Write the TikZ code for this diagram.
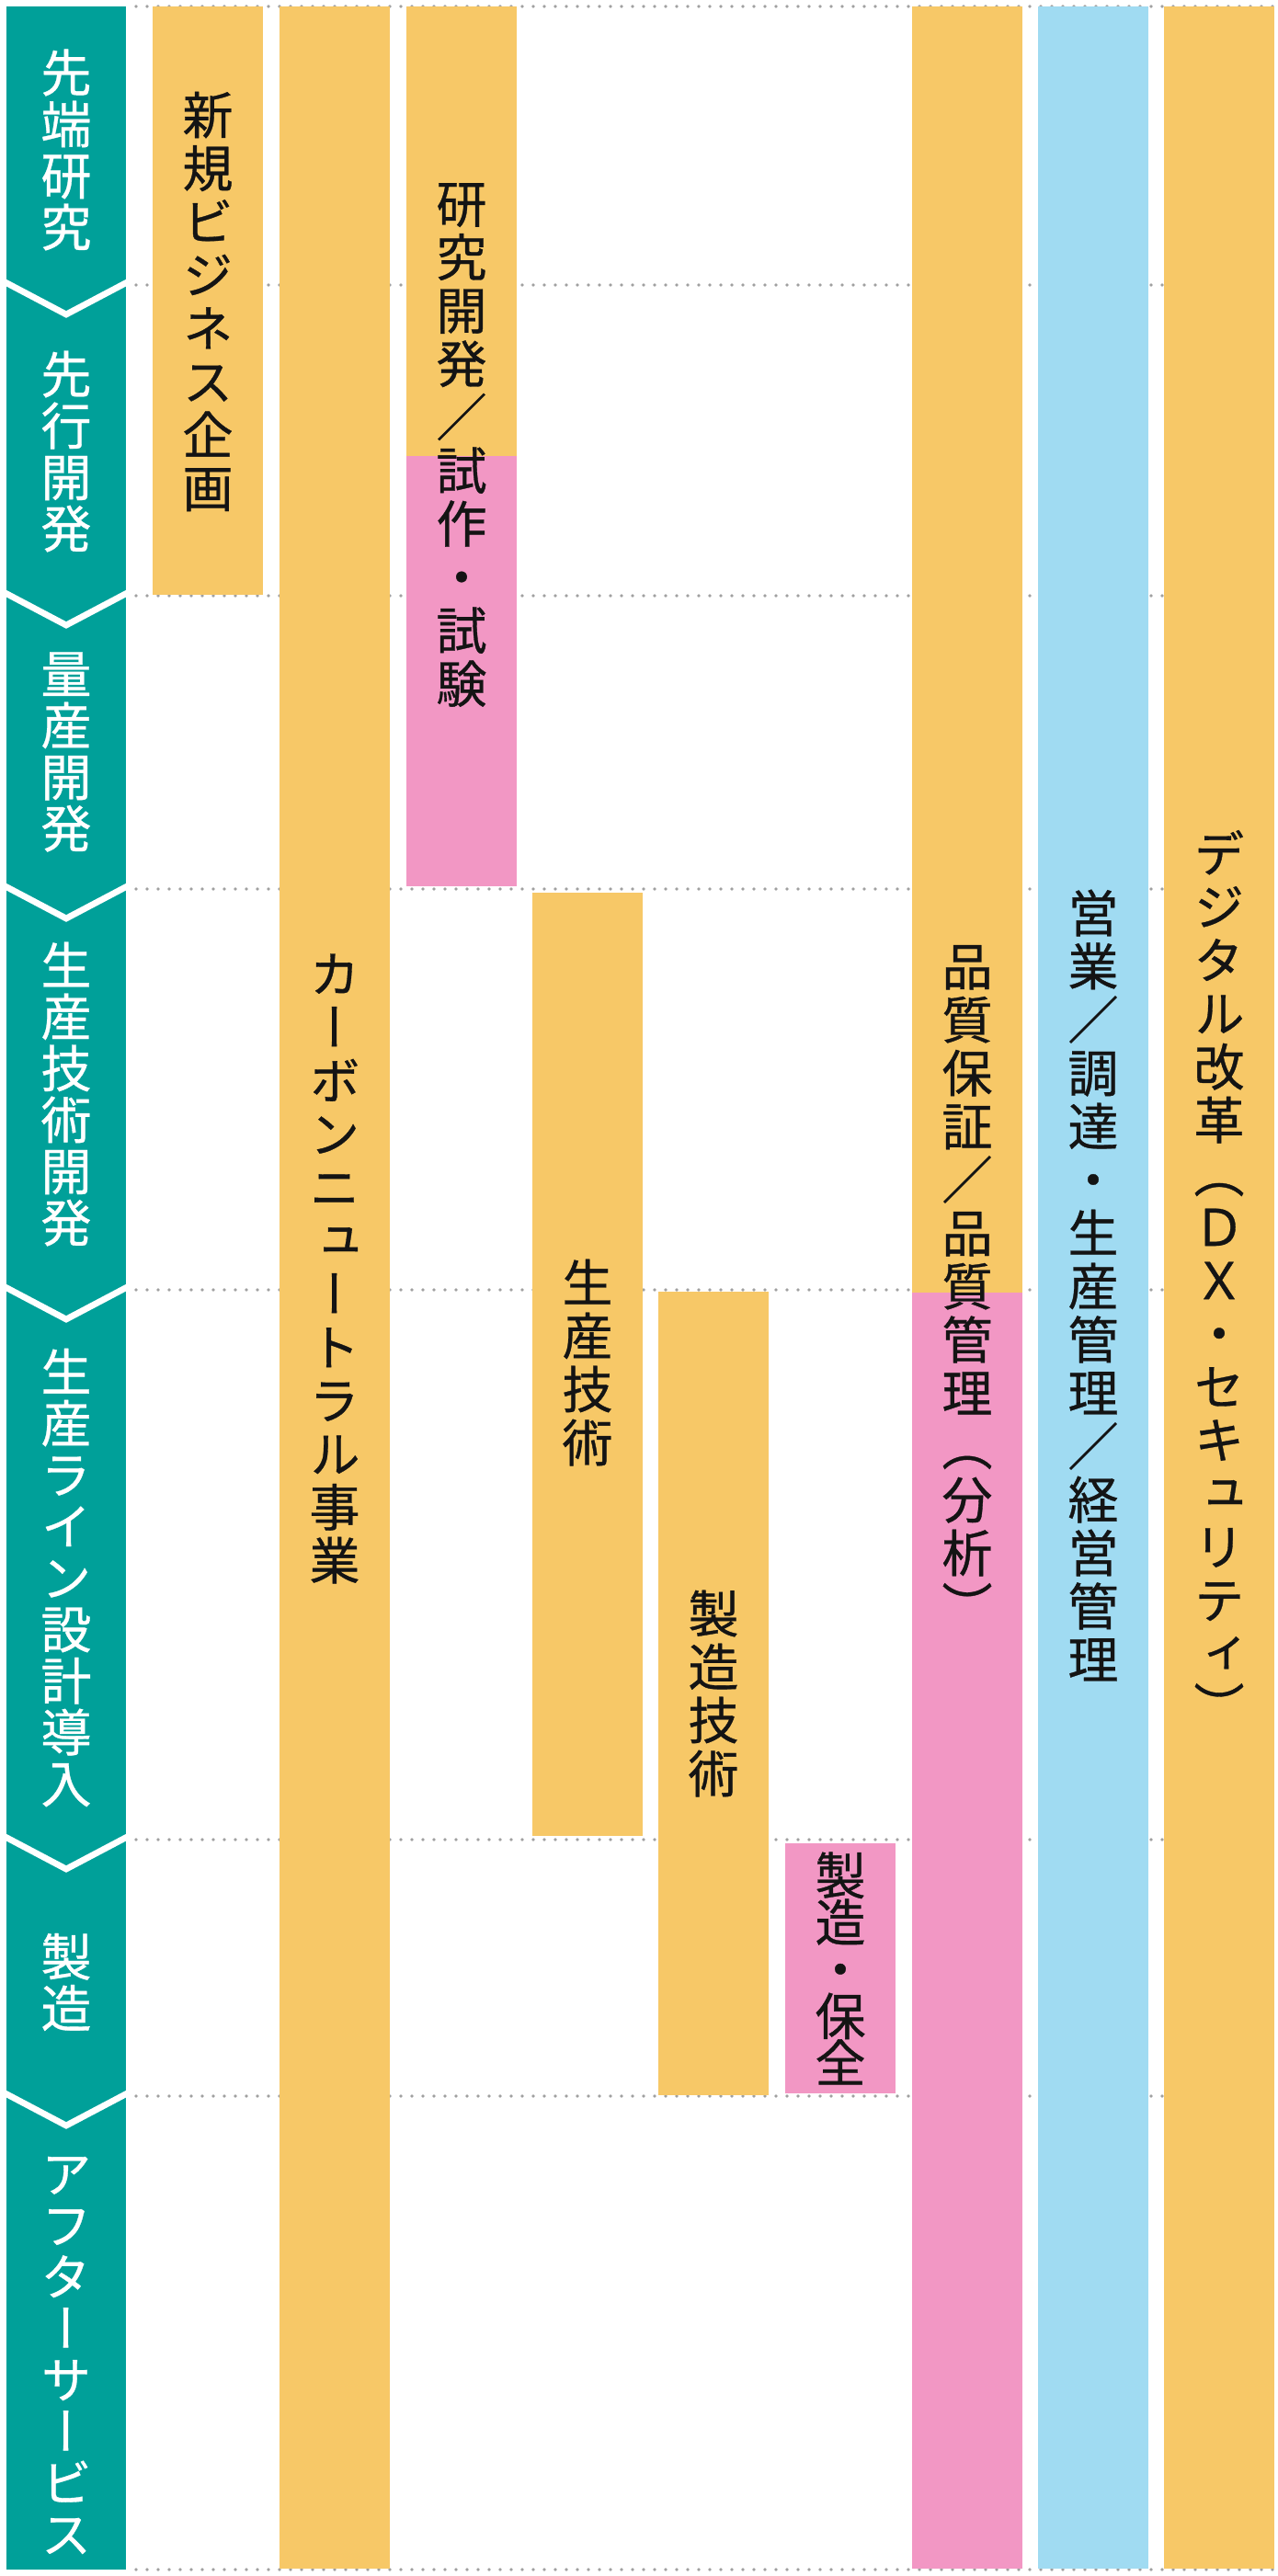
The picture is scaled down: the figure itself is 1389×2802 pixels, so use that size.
\documentclass[tikz,border=0pt]{standalone}
\usepackage{fontspec}
\newfontfamily\jpv[RawFeature=+vert,FakeBold=0.6]{Noto Sans CJK JP}
\newfontfamily\jp[FakeBold=0.6]{Noto Sans CJK JP}
\definecolor{cy}{RGB}{247,200,103}
\definecolor{cp}{RGB}{242,151,196}
\definecolor{cb}{RGB}{160,219,242}
\definecolor{tealc}{RGB}{0,160,153}
\definecolor{dotc}{RGB}{160,160,160}
\makeatletter
\newcommand\tatetext[2]{\vbox{\baselineskip=#1\lineskiplimit=-\maxdimen\lineskip=0pt\@tfor\tch:=#2\do{\hbox to 1em{\hss\tch\hss}}}}
\makeatother
\newcommand\jslash{{\jp ／}}
\tikzset{
  lbl/.style={inner sep=0pt, text={black!92}, font=\jpv\fontsize{27.5pt}{27.5pt}\selectfont},
  tlbl/.style={inner sep=0pt, text=white, font=\jpv\fontsize{27.5pt}{27.5pt}\selectfont},
  dotline/.style={draw=dotc, line width=1.8pt, line cap=round, dash pattern=on 0pt off 6pt},
  chev/.style={draw=white, line width=3.4pt, line join=miter},
}
\begin{document}
\begin{tikzpicture}[x=0.5pt,y=-0.5pt]
\useasboundingbox (0,0) rectangle (1389,2802);
\fill[white] (0,0) rectangle (1389,2802);
% dotted phase boundaries
\foreach \yy in {7,310,648,967,1403,2001,2280,2795}
  \draw[dotline] (148,\yy) -- (1389,\yy);
% teal phase column
\fill[tealc] (7,7) rectangle (137,2795);
\begin{scope}
  \clip (7,7) rectangle (137,2795);
  \foreach \yy in {310,648,967,1403,2001,2280}
    \draw[chev] (0,\yy-6) -- (72,\yy+32) -- (144,\yy-6);
\end{scope}
\node[tlbl] (p1) at (72,163)  {\tatetext{28pt}{先端研究}};
\node[tlbl] (p2) at (72,491)  {\tatetext{28pt}{先行開発}};
\node[tlbl] (p3) at (72,818)  {\tatetext{28pt}{量産開発}};
\node[tlbl] (p4) at (72,1190) {\tatetext{28pt}{生産技術開発}};
\node[tlbl] (p5) at (72,1716) {\tatetext{28pt}{生産ライン設計導入}};
\node[tlbl] (p6) at (72,2156) {\tatetext{28pt}{製造}};
\node[tlbl] (p7) at (72,2562) {\tatetext{28pt}{アフターサービス}};
% bars
\fill[cy] (166,7) rectangle (286,647);
\fill[cy] (304,7) rectangle (424,2794);
\fill[cy] (442,7) rectangle (562,496);
\fill[cp] (442,496) rectangle (562,964);
\fill[cy] (579,971) rectangle (699,1997);
\fill[cy] (716,1405) rectangle (836,2279);
\fill[cp] (854,2005) rectangle (974,2277);
\fill[cy] (992,7) rectangle (1112,1406);
\fill[cp] (992,1406) rectangle (1112,2794);
\fill[cb] (1129,7) rectangle (1249,2794);
\fill[cy] (1266,7) rectangle (1386,2794);
% labels
\node[lbl] (t1) at (226,328)  {\tatetext{29pt}{新規ビジネス企画}};
\node[lbl] (t2) at (364,1380) {\tatetext{29pt}{カーボンニュートラル事業}};
\node[lbl] (t3) at (502,484)  {\tatetext{29pt}{研究開発\jslash 試作・試験}};
\node[lbl] (t4) at (639,1482) {\tatetext{29pt}{生産技術}};
\node[lbl] (t5) at (776,1842) {\tatetext{29pt}{製造技術}};
\node[lbl] (t6) at (914,2141) {\tatetext{25.5pt}{製造・保全}};
\node[lbl] (t7) at (1052,1398) {\tatetext{29pt}{品質保証\jslash 品質管理（分析）}};
\node[lbl] (t8) at (1189,1398) {\tatetext{29pt}{営業\jslash 調達・生産管理\jslash 経営管理}};
\node[lbl] (t9) at (1326,1390) {\tatetext{29pt}{デジタル改革（ＤＸ・セキュリティ）}};
\end{tikzpicture}
\end{document}
